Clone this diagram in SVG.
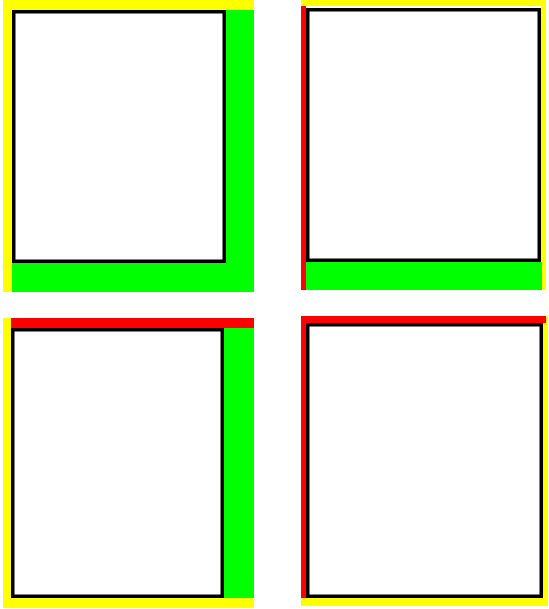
<svg xmlns="http://www.w3.org/2000/svg" width="549" height="609" viewBox="0 0 549 609">
<style>
.y{fill:#ffff00}
.r{fill:#ff0000}
.g{fill:#00ff00}
.box{fill:#ffffff;stroke:#000000;stroke-width:3.5}
</style>
<rect width="549" height="609" fill="#ffffff"/>
<g id="panel1">
<rect class="y" x="3" y="0" width="251" height="292"/>
<rect class="g" x="12" y="10" width="242" height="282"/>
<rect class="box" x="13.75" y="11.75" width="210.5" height="249.5"/>
</g>
<g id="panel2">
<rect class="y" x="301" y="0" width="245" height="290"/>
<rect class="r" x="301" y="6" width="5" height="284"/>
<rect class="g" x="306" y="262" width="236" height="28"/>
<rect fill="#ffffff" x="306" y="6" width="235" height="256"/>
<rect class="box" x="307.75" y="9.75" width="231.5" height="250.5"/>
</g>
<g id="panel3">
<rect class="y" x="3" y="318" width="251" height="290"/>
<rect class="r" x="11" y="318" width="243" height="10"/>
<rect class="g" x="224" y="328" width="30" height="270"/>
<rect class="box" x="12.75" y="329.75" width="209.5" height="266.5"/>
</g>
<g id="panel4">
<rect class="y" x="301" y="316" width="247" height="290"/>
<rect class="r" x="301" y="316" width="245" height="7"/>
<rect class="r" x="301" y="316" width="5" height="282"/>
<rect class="box" x="307.75" y="324.75" width="233.5" height="271.5"/>
</g>
</svg>
